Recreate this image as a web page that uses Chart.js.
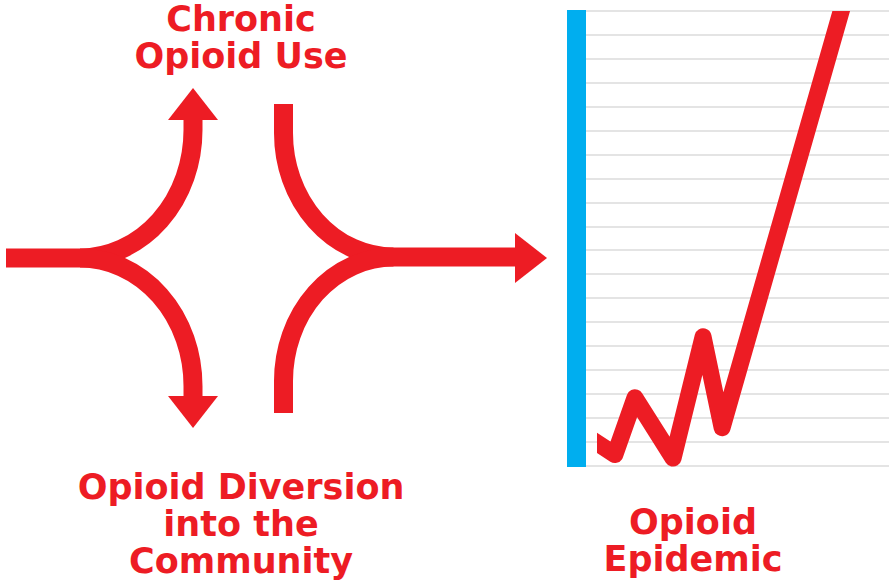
<!DOCTYPE html>
<html>
<head>
<meta charset="utf-8">
<script src="https://cdn.jsdelivr.net/npm/chart.js@4/dist/chart.umd.min.js"></script>
<style>
  html, body { margin: 0; padding: 0; background: #fff; }
  #page { position: relative; width: 889px; height: 582px; overflow: hidden; }
  #arrows { position: absolute; left: 0; top: 0; }
  #chart-box { position: absolute; left: 560px; top: 0; width: 329px; height: 490px; }
  .label {
    position: absolute;
    color: #ed1c24;
    font-family: "DejaVu Sans", sans-serif;
    font-weight: bold;
    font-size: 35px;
    line-height: 37px;
    text-align: center;
    white-space: nowrap;
  }
</style>
</head>
<body>
<div id="page">
  <svg id="arrows" width="889" height="582">
    <g fill="none" stroke="#ed1c24" stroke-width="19" stroke-linecap="butt">
      <path d="M 6 258 H 80 A 113 128 0 0 0 193 130 V 119"/>
      <path d="M 80 258 A 113 128 0 0 1 193 386 V 397"/>
      <path d="M 283.5 104 V 133 A 110 124 0 0 0 393.5 257 H 516"/>
      <path d="M 283.5 413 V 381 A 110 124 0 0 1 393.5 257"/>
    </g>
    <g fill="#ed1c24">
      <polygon points="168,120 218,120 193,88"/>
      <polygon points="168,396 218,396 193,428"/>
      <polygon points="515,233 515,283 547,258"/>
    </g>
  </svg>

  <div class="label" style="left:86px; width:310px; top:1px;">Chronic<br>Opioid Use</div>
  <div class="label" style="left:41px; width:400px; top:469px;">Opioid Diversion<br>into the<br>Community</div>
  <div class="label" style="left:593px; width:200px; top:504px;">Opioid<br>Epidemic</div>

  <div id="chart-box"><canvas id="epidemicChart"></canvas></div>
</div>

<script>
// x = time (arbitrary units), y = level
const timeX = [4.3, 12.3, 18.7, 30.9, 40.5, 46.6, 86.9];
const epidemicLevel = [1.16, 0.48, 2.85, 0.33, 5.4, 1.6, 20];
const yMax = 19;

const points = timeX.map((x, i) => ({ x: x, y: epidemicLevel[i] }));

// thick blue y axis bar, only as tall as the grid
const axisBar = {
    id: 'axisBar',
    beforeDatasetsDraw(chart) {
        const { ctx, chartArea } = chart;
        ctx.save();
        ctx.fillStyle = '#00aeef';
        ctx.fillRect(chartArea.left - 9.5, chartArea.top - 1, 19, chartArea.bottom - chartArea.top + 2);
        ctx.restore();
    }
};

new Chart(document.getElementById('epidemicChart'), {
    type: 'line',
    data: {
        datasets: [{
            data: points,
            borderColor: '#ed1c24',
            borderWidth: 17,
            borderJoinStyle: 'round',
            borderCapStyle: 'butt',
            pointRadius: 0,
            tension: 0,
            fill: false,
            clip: { left: -20.5, top: 0, right: 0, bottom: 14 }
        }]
    },
    options: {
        responsive: true,
        maintainAspectRatio: false,
        animation: false,
        layout: { padding: { left: 16.5, top: 11, right: 0, bottom: 24 } },
        plugins: {
            legend: { display: false },
            tooltip: { enabled: false }
        },
        scales: {
            x: { type: 'linear', min: 0, max: 100, display: false },
            y: {
                min: 0,
                max: yMax,
                ticks: { display: false, stepSize: 1 },
                grid: { color: '#e4e4e4', lineWidth: 2, drawTicks: false },
                border: { display: false }
            }
        }
    },
    plugins: [axisBar]
});
</script>
</body>
</html>
